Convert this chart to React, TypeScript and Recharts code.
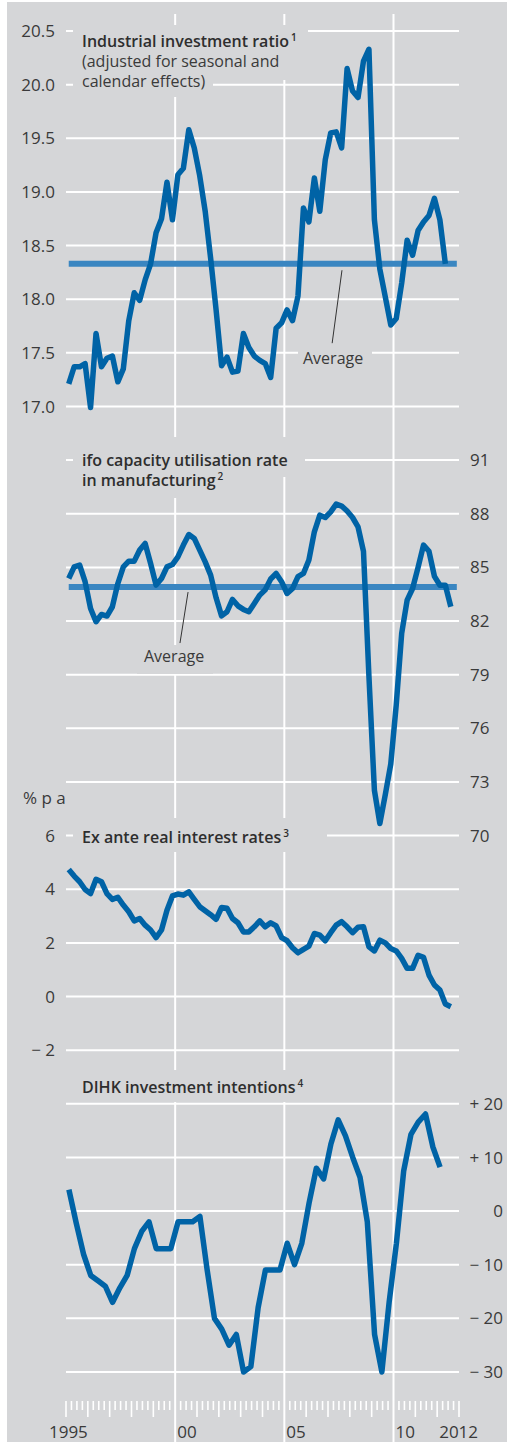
import React from "react";
import { CartesianGrid, Line, LineChart, ReferenceLine, XAxis, YAxis } from "recharts";

const W = 507;
const H = 1442;
const BG = "#d5d6d8";
const INK = "#3a3a3a";
const BLUE = "#0063a6";
const AVG_BLUE = "#3a86c1";
const FONT = "'Open Sans', 'Noto Sans', sans-serif";

// shared plot box for the four stacked layers
const PLOT_TOP = 14;
const X_AXIS_H = 41;
const LEFT_W = 66;
const RIGHT_W = 48;
const ROW = 53.64; // px between two gridlines
const ROWS = 25;
const TOP_PAD = 17;
const BOTTOM_PAD = 29;

// y domain from the value on the topmost gridline and the value of one row
const domainFor = (topValue: number, step: number): [number, number] => [
  topValue - step * (ROWS + BOTTOM_PAD / ROW),
  topValue + step * (TOP_PAD / ROW),
];

// Industrial investment ratio, quarterly 1995 Q1 – 2012 Q2
const investmentRatio = [
  17.21, 17.37, 17.37, 17.4, 16.99, 17.68, 17.37, 17.45, 17.47, 17.23,
  17.35, 17.8, 18.06, 17.99, 18.18, 18.33, 18.62, 18.75, 19.09, 18.74,
  19.16, 19.22, 19.58, 19.41, 19.15, 18.82, 18.38, 17.9, 17.38, 17.46,
  17.32, 17.33, 17.68, 17.55, 17.47, 17.43, 17.4, 17.27, 17.73, 17.78,
  17.9, 17.8, 18.03, 18.85, 18.72, 19.13, 18.82, 19.3, 19.55, 19.56,
  19.41, 20.15, 19.94, 19.88, 20.22, 20.33, 18.74, 18.28, 18.02, 17.76,
  17.82, 18.15, 18.55, 18.41, 18.64, 18.72, 18.78, 18.94, 18.74, 18.33,
];
const investmentAverage = 18.33;

// ifo capacity utilisation, quarterly 1995 Q1 – 2012 Q3
const capacityUtilisation = [
  84.38, 85.03, 85.13, 84.2, 82.7, 81.96, 82.37, 82.28, 82.8, 84.1,
  85.03, 85.35, 85.35, 85.97, 86.34, 85.22, 84.01, 84.38, 85.03, 85.16,
  85.59, 86.25, 86.84, 86.62, 85.97, 85.31, 84.57, 83.3, 82.29, 82.52,
  83.21, 82.85, 82.65, 82.52, 82.98, 83.45, 83.75, 84.35, 84.66, 84.2,
  83.54, 83.82, 84.48, 84.66, 85.41, 86.99, 87.92, 87.79, 88.11, 88.54,
  88.43, 88.15, 87.79, 87.27, 85.9, 78.9, 72.54, 70.68, 72.3, 74.0,
  77.3, 81.31, 83.17, 83.82, 85.0, 86.25, 85.9, 84.5, 84.0, 84.0, 82.8,
];
const capacityAverage = 83.9;

// Ex ante real interest rates, % p a, quarterly 1995 Q1 – 2012 Q3
const realInterest = [
  4.74, 4.49, 4.28, 3.99, 3.84, 4.37, 4.28, 3.84, 3.62, 3.7,
  3.41, 3.16, 2.82, 2.91, 2.66, 2.48, 2.2, 2.48, 3.22, 3.75,
  3.82, 3.78, 3.9, 3.62, 3.35, 3.2, 3.05, 2.88, 3.32, 3.29,
  2.91, 2.75, 2.41, 2.41, 2.6, 2.82, 2.6, 2.75, 2.63, 2.2,
  2.08, 1.82, 1.63, 1.76, 1.88, 2.35, 2.29, 2.08, 2.38, 2.66,
  2.79, 2.6, 2.38, 2.58, 2.6, 1.85, 1.7, 2.1, 2.0, 1.79,
  1.7, 1.42, 1.05, 1.05, 1.54, 1.46, 0.8, 0.43, 0.24, -0.28, -0.38,
];

// DIHK investment intentions, three surveys a year, early 1995 – early 2012
const investmentIntentions = [
  4, -2.2, -8, -12, -13, -14, -17, -14.3, -12, -7,
  -3.8, -2, -7, -7, -7, -2, -2, -2, -1, -11,
  -20, -22, -25, -23, -30, -29, -18, -11, -11, -11,
  -6, -10, -6, 1.5, 8, 6, 12.5, 17, 14, 10,
  6.3, -2, -23, -30, -17, -6, 7.5, 14.3, 16.6, 18.1,
  12, 8.2,
];

const ratioTicks = [17, 17.5, 18, 18.5, 19, 19.5, 20, 20.5];
const capacityTicks = [70, 73, 76, 79, 82, 85, 88, 91];
const interestTicks = [-2, 0, 2, 4, 6];
const intentionTicks = [-30, -20, -10, 0, 10, 20];
const yearLabels = [
  { year: 1996, text: "1995", anchor: "end" },
  { year: 2000, text: "00", anchor: "start" },
  { year: 2005, text: "05", anchor: "start" },
  { year: 2010, text: "10", anchor: "start" },
  { year: 2012, text: "2012", anchor: "start" },
];
const gridYears = [2000, 2005, 2010];

const X_DOMAIN: [number, number] = [1995, 2013];
const quarterTicks = Array.from({ length: 73 }, (_, i) => 1995 + i / 4);
const quarterT = (i: number) => 1995 + (i + 0.5) / 4;
const surveyT = (i: number) => 1995 + (i + 0.4) / 3;

const ratioData = investmentRatio.map((v, i) => ({ t: quarterT(i), v }));
const capacityData = capacityUtilisation.map((v, i) => ({ t: quarterT(i), v }));
const interestData = realInterest.map((v, i) => ({ t: quarterT(i), v }));
const intentionData = investmentIntentions.map((v, i) => ({ t: surveyT(i), v }));
const avgSpan = [quarterT(0), 2012.9];
const ratioAvgData = avgSpan.map((t) => ({ t, v: investmentAverage }));
const capacityAvgData = avgSpan.map((t) => ({ t, v: capacityAverage }));

const ratioDomain = domainFor(20.5, 0.5);
const capacityDomain = domainFor(115, 3);
const interestDomain = domainFor(36, 2);
const intentionDomain = domainFor(220, 10);
const gridValues = Array.from({ length: ROWS + 1 }, (_, i) => 20.5 - i * 0.5);

const tickStyle = { fill: INK, fontSize: 17, fontFamily: FONT };
const minus = (n: number) => `\u2212 ${Math.abs(n)}`;

function QuarterTick(props: any) {
  const { x, y, payload } = props;
  const v = payload.value as number;
  const yr = Math.round(v);
  const isYear = Math.abs(v - yr) < 1e-6;
  const isFive = isYear && gridYears.includes(yr);
  const len = isFive ? 41 : isYear ? 16 : 9;
  const lab = isYear ? yearLabels.find((l) => l.year === yr) : undefined;
  return (
    <g>
      <line x1={x} x2={x} y1={y} y2={y + len} stroke="#fff" strokeWidth={isFive ? 2 : 1.6} />
      {lab && (
        <text
          x={lab.anchor === "end" ? x : x + 2}
          y={y + 37}
          textAnchor={lab.anchor}
          fill={INK}
          fontSize={17}
          fontFamily={FONT}
        >
          {lab.text}
        </text>
      )}
    </g>
  );
}

function IntentionTick(props: any) {
  const { x, y, payload } = props;
  const v = payload.value as number;
  const text = v > 0 ? `+ ${v}` : v < 0 ? minus(v) : "0";
  return (
    <text x={x} y={y} dy="0.36em" textAnchor="end" fill={INK} fontSize={17} fontFamily={FONT}>
      {text}
    </text>
  );
}

const layer: React.CSSProperties = { position: "absolute", left: 0, top: 0 };
const leftMargin = { top: PLOT_TOP, right: RIGHT_W, bottom: X_AXIS_H, left: 0 };
const rightMargin = { top: PLOT_TOP, right: 0, bottom: X_AXIS_H, left: LEFT_W };

function seriesLine(key: string) {
  return (
    <Line
      key={key}
      type="linear"
      dataKey="v"
      stroke={BLUE}
      strokeWidth={5.5}
      strokeLinejoin="round"
      strokeLinecap="butt"
      dot={false}
      activeDot={false}
      isAnimationActive={false}
    />
  );
}

function avgLine(data: { t: number; v: number }[]) {
  return (
    <Line
      data={data}
      type="linear"
      dataKey="v"
      stroke={AVG_BLUE}
      strokeWidth={6}
      strokeLinecap="butt"
      dot={false}
      activeDot={false}
      isAnimationActive={false}
    />
  );
}

function Mask({ x, y, w, h }: { x: number; y: number; w: number; h: number }) {
  return <div style={{ position: "absolute", left: x, top: y, width: w, height: h, background: BG }} />;
}

function Txt({ x, y, size = 16, children }: { x: number; y: number; size?: number; children: React.ReactNode }) {
  return (
    <div
      style={{
        position: "absolute",
        left: x,
        top: y,
        lineHeight: "20px",
        fontSize: size,
        color: INK,
        fontFamily: FONT,
        whiteSpace: "nowrap",
      }}
    >
      {children}
    </div>
  );
}

const B = ({ children }: { children: React.ReactNode }) => (
  <span style={{ fontWeight: 600, color: "#2e2e2e" }}>{children}</span>
);

const Sup = ({ n }: { n: string }) => (
  <span style={{ fontSize: 10, verticalAlign: 6, marginLeft: 2, lineHeight: "10px" }}>{n}</span>
);

export default function App() {
  return (
    <div style={{ position: "absolute", left: 0, top: 0, width: W, height: H, overflow: "hidden" }}>
      <div style={{ position: "absolute", left: 7, top: 2, width: W - 7, height: H - 2, background: BG }} />

      {/* layer 1: grid, time axis, investment ratio */}
      <div style={layer}>
        <LineChart width={W} height={H} data={ratioData} margin={{ ...leftMargin, bottom: 0 }}>
          <CartesianGrid
            stroke="#fff"
            strokeWidth={2}
            horizontalValues={gridValues}
            verticalValues={gridYears}
          />
          <XAxis
            dataKey="t"
            type="number"
            domain={X_DOMAIN}
            ticks={quarterTicks}
            interval={0}
            height={X_AXIS_H}
            axisLine={false}
            tickLine={false}
            tickSize={0}
            tickMargin={0}
            tick={QuarterTick}
            allowDataOverflow
          />
          <YAxis
            type="number"
            domain={ratioDomain}
            ticks={ratioTicks}
            interval={0}
            width={LEFT_W}
            axisLine={false}
            tickLine={false}
            tickSize={0}
            tickMargin={11}
            tick={tickStyle}
            tickFormatter={(v: number) => v.toFixed(1)}
            allowDataOverflow
          />
          {avgLine(ratioAvgData)}
          <ReferenceLine
            segment={[
              { x: 2007.64, y: 18.27 },
              { x: 2007.19, y: 17.59 },
            ]}
            stroke="#333"
            strokeWidth={1}
          />
          {seriesLine("ratio")}
        </LineChart>
      </div>

      {/* layer 2: ifo capacity utilisation */}
      <div style={layer}>
        <LineChart width={W} height={H} data={capacityData} margin={rightMargin}>
          <XAxis dataKey="t" type="number" domain={X_DOMAIN} hide allowDataOverflow />
          <YAxis
            orientation="right"
            type="number"
            domain={capacityDomain}
            ticks={capacityTicks}
            interval={0}
            width={RIGHT_W}
            axisLine={false}
            tickLine={false}
            tickSize={0}
            tickMargin={11}
            tick={tickStyle}
            allowDataOverflow
          />
          {avgLine(capacityAvgData)}
          <ReferenceLine
            segment={[
              { x: 2000.59, y: 83.62 },
              { x: 2000.22, y: 80.77 },
            ]}
            stroke="#333"
            strokeWidth={1}
          />
          {seriesLine("capacity")}
        </LineChart>
      </div>

      {/* layer 3: real interest rates */}
      <div style={layer}>
        <LineChart width={W} height={H} data={interestData} margin={leftMargin}>
          <XAxis dataKey="t" type="number" domain={X_DOMAIN} hide allowDataOverflow />
          <YAxis
            type="number"
            domain={interestDomain}
            ticks={interestTicks}
            interval={0}
            width={LEFT_W}
            axisLine={false}
            tickLine={false}
            tickSize={0}
            tickMargin={11}
            tick={tickStyle}
            tickFormatter={(v: number) => (v < 0 ? minus(v) : String(v))}
            allowDataOverflow
          />
          {seriesLine("interest")}
        </LineChart>
      </div>

      {/* layer 4: DIHK investment intentions */}
      <div style={layer}>
        <LineChart width={W} height={H} data={intentionData} margin={rightMargin}>
          <XAxis dataKey="t" type="number" domain={X_DOMAIN} hide allowDataOverflow />
          <YAxis
            orientation="right"
            type="number"
            domain={intentionDomain}
            ticks={intentionTicks}
            interval={0}
            width={RIGHT_W}
            axisLine={false}
            tickLine={false}
            tickSize={0}
            tickMargin={44}
            tick={IntentionTick}
            allowDataOverflow
          />
          {seriesLine("intentions")}
        </LineChart>
      </div>

      {/* title boxes knock out the grid behind them */}
      <Mask x={73} y={25} w={235} h={33} />
      <Mask x={73} y={58} w={219} h={22} />
      <Mask x={73} y={80} w={140} h={17} />
      <Mask x={298} y={345} w={74} h={22} />
      <Mask x={73} y={437} w={232} h={40} />
      <Mask x={73} y={477} w={167} h={21} />
      <Mask x={137} y={645} w={76} h={29} />
      <Mask x={73} y={818} w={254} h={34} />
      <Mask x={73} y={1070} w={247} h={32} />

      <Txt x={82} y={31}>
        <B>
          Industrial investment ratio<Sup n="1" />
        </B>
        <br />
        (adjusted for seasonal and
        <br />
        calendar effects)
      </Txt>
      <Txt x={303} y={348}>Average</Txt>

      <Txt x={82} y={450}>
        <B>
          ifo capacity utilisation rate
          <br />
          in manufacturing<Sup n="2" />
        </B>
      </Txt>
      <Txt x={144} y={646}>Average</Txt>

      <Txt x={23} y={788} size={17}>
        % p a
      </Txt>
      <Txt x={82} y={827}>
        <B>
          Ex ante real interest rates<Sup n="3" />
        </B>
      </Txt>
      <Txt x={82} y={1077}>
        <B>
          DIHK investment intentions<Sup n="4" />
        </B>
      </Txt>
    </div>
  );
}
